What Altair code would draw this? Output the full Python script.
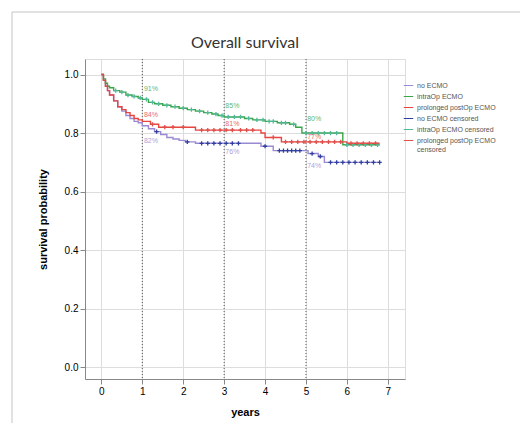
import altair as alt
import pandas as pd

# ---- data ----
chart_title = ["Overall survival"]
series_names = ["no ECMO", "intraOp ECMO", "prolonged postOp ECMO",
                "no ECMO censored", "intraOp ECMO censored", "prolonged postOp ECMO censored"]
series_colors = ["#9a8ad2", "#3aa64a", "#e8453f", "#2f3f9e", "#52b89a", "#e0504c"]

noecmo_t = [0, 0.05, 0.1, 0.15, 0.2, 0.3, 0.4, 0.5, 0.6, 0.7, 0.8, 0.9, 1.0, 1.15, 1.3, 1.45,
            1.6, 1.75, 1.9, 2.05, 2.3, 3.9, 4.2, 5.05, 5.3, 5.45, 6.8]
noecmo_s = [1.0, 0.98, 0.96, 0.945, 0.93, 0.91, 0.89, 0.875, 0.86, 0.85, 0.84, 0.835, 0.825,
            0.815, 0.805, 0.795, 0.785, 0.78, 0.775, 0.77, 0.765, 0.755, 0.74, 0.73, 0.72, 0.70, 0.70]

intra_t = [0, 0.05, 0.1, 0.15, 0.2, 0.3, 0.45, 0.6, 0.75, 0.9, 1.0, 1.15, 1.3, 1.5, 1.7, 1.9,
           2.1, 2.3, 2.5, 2.7, 2.85, 3.0, 3.5, 3.7, 4.0, 4.3, 4.6, 4.75, 4.9, 5.9, 6.8]
intra_s = [1.0, 0.985, 0.97, 0.96, 0.955, 0.945, 0.94, 0.93, 0.925, 0.92, 0.915, 0.905, 0.9,
           0.895, 0.89, 0.885, 0.88, 0.875, 0.87, 0.865, 0.86, 0.855, 0.85, 0.845, 0.84, 0.835,
           0.83, 0.82, 0.80, 0.76, 0.76]

postop_t = [0, 0.05, 0.1, 0.15, 0.2, 0.3, 0.4, 0.5, 0.6, 0.7, 0.8, 0.9, 1.0, 1.2, 1.4, 2.3,
            3.9, 4.0, 4.4, 6.0, 6.8]
postop_s = [1.0, 0.98, 0.96, 0.945, 0.93, 0.91, 0.89, 0.88, 0.87, 0.86, 0.85, 0.845, 0.84,
            0.83, 0.82, 0.81, 0.80, 0.785, 0.77, 0.765, 0.765]

noecmo_cens_t = [1.35, 2.1, 2.45, 2.6, 2.75, 2.9, 3.05, 3.2, 3.35, 4.0, 4.35, 4.45, 4.55, 4.65,
                 4.75, 4.85, 5.15, 5.35, 5.6, 5.75, 5.9, 6.05, 6.2, 6.35, 6.5, 6.65, 6.8]
noecmo_cens_s = [0.805, 0.77, 0.765, 0.765, 0.765, 0.765, 0.765, 0.765, 0.765, 0.755, 0.74, 0.74,
                 0.74, 0.74, 0.74, 0.74, 0.73, 0.72, 0.70, 0.70, 0.70, 0.70, 0.70, 0.70, 0.70,
                 0.70, 0.70]

intra_cens_t = [0.35, 0.5, 0.65, 0.8, 0.95, 1.1, 1.25, 1.4, 1.6, 1.8, 2.0, 2.2, 2.4, 2.6, 2.8,
                2.95, 3.1, 3.25, 3.4, 3.6, 3.8, 3.95, 4.1, 4.2, 4.4, 4.5, 4.7, 5.0, 5.15, 5.3,
                5.45, 5.6, 5.75, 6.0, 6.15, 6.3, 6.45, 6.6, 6.75]
intra_cens_s = [0.945, 0.94, 0.93, 0.925, 0.92, 0.915, 0.905, 0.9, 0.895, 0.89, 0.885, 0.88,
                0.875, 0.87, 0.865, 0.86, 0.855, 0.855, 0.855, 0.85, 0.845, 0.845, 0.84, 0.84,
                0.835, 0.835, 0.83, 0.80, 0.80, 0.80, 0.80, 0.80, 0.80, 0.76, 0.76, 0.76,
                0.76, 0.76, 0.76]

postop_cens_t = [1.25, 1.55, 1.75, 2.0, 2.45, 2.6, 2.75, 2.9, 3.05, 3.2, 3.4, 3.55, 3.7, 4.2,
                 4.5, 4.65, 4.8, 4.95, 5.1, 5.25, 5.4, 5.55, 5.7, 5.85, 6.1, 6.25, 6.4, 6.55, 6.7]
postop_cens_s = [0.83, 0.82, 0.82, 0.82, 0.81, 0.81, 0.81, 0.81, 0.81, 0.81, 0.81, 0.81, 0.81,
                 0.785, 0.77, 0.77, 0.77, 0.77, 0.77, 0.77, 0.77, 0.77, 0.77, 0.77, 0.765,
                 0.765, 0.765, 0.765, 0.765]

label_text = ["91%", "84%", "82%", "85%", "81%", "76%", "80%", "77%", "74%"]
label_x = [1.04, 1.04, 1.04, 3.03, 3.03, 3.03, 5.03, 5.03, 5.03]
label_y = [0.949, 0.863, 0.772, 0.894, 0.832, 0.734, 0.848, 0.785, 0.686]
label_series = ["intraOp ECMO", "prolonged postOp ECMO", "no ECMO",
                "intraOp ECMO", "prolonged postOp ECMO", "no ECMO",
                "intraOp ECMO", "prolonged postOp ECMO", "no ECMO"]

ref_years = [1, 3, 5]
x_ticks = [0, 1, 2, 3, 4, 5, 6, 7]
y_ticks = [0.0, 0.2, 0.4, 0.6, 0.8, 1.0]

# ---- tables ----
lines_df = pd.concat([
    pd.DataFrame({"years": noecmo_t, "surv": noecmo_s, "series": "no ECMO"}),
    pd.DataFrame({"years": intra_t, "surv": intra_s, "series": "intraOp ECMO"}),
    pd.DataFrame({"years": postop_t, "surv": postop_s, "series": "prolonged postOp ECMO"}),
])
cens_df = pd.concat([
    pd.DataFrame({"years": noecmo_cens_t, "surv": noecmo_cens_s, "series": "no ECMO censored"}),
    pd.DataFrame({"years": intra_cens_t, "surv": intra_cens_s, "series": "intraOp ECMO censored"}),
    pd.DataFrame({"years": postop_cens_t, "surv": postop_cens_s,
                  "series": "prolonged postOp ECMO censored"}),
])
labels_df = pd.DataFrame({"years": label_x, "surv": label_y, "text": label_text,
                          "series": label_series})
ref_df = pd.DataFrame({"years": ref_years})
title_df = pd.DataFrame({"title": chart_title})

xscale = alt.Scale(domain=[-0.4, 7.42], nice=False, zero=False)
yscale = alt.Scale(domain=[-0.04, 1.053], nice=False, zero=False)
cscale = alt.Scale(domain=series_names, range=series_colors)

xenc = alt.X("years:Q", scale=xscale,
             axis=alt.Axis(title="years", values=x_ticks, format="d", titlePadding=10))
yenc = alt.Y("surv:Q", scale=yscale,
             axis=alt.Axis(title="survival probability", values=y_ticks, format=".1f",
                           titlePadding=16))

legend = alt.Legend(title=None, orient="none", legendX=318, legendY=21, symbolType="stroke",
                    symbolSize=90, symbolStrokeWidth=1, labelFontSize=7, labelColor="#555",
                    labelFont="Liberation Sans", rowPadding=2, labelOffset=3, labelLimit=200,
                    labelExpr="datum.label == 'prolonged postOp ECMO censored' ? "
                              "['prolonged postOp ECMO', 'censored'] : datum.label")

frame = alt.Chart(title_df).mark_rect(fill=None, stroke="#c4c4c4", strokeWidth=1, clip=False).encode(
    x=alt.value(-73), y=alt.value(-47), x2=alt.value(700), y2=alt.value(600))

title = alt.Chart(title_df).mark_text(font="Lato", fontSize=16, color="#333", align="center",
                                      baseline="alphabetic").encode(
    x=alt.value(160), y=alt.value(-11), text="title:N")

refs = alt.Chart(ref_df).mark_rule(color="#555", strokeDash=[1, 2], strokeWidth=1).encode(
    x=alt.X("years:Q", scale=xscale))

lines = alt.Chart(lines_df).mark_line(interpolate="step-after", strokeWidth=1.4).encode(
    x=xenc, y=yenc,
    color=alt.Color("series:N", scale=cscale, legend=legend),
    detail="series:N")

cens = alt.Chart(cens_df).mark_point(shape="M-1,0L1,0M0,-1L0,1", filled=False, size=18,
                                     strokeWidth=1.3, opacity=1).encode(
    x=xenc, y=yenc, color=alt.Color("series:N", scale=cscale, legend=legend))

labels = alt.Chart(labels_df).mark_text(align="left", baseline="middle", fontSize=7,
                                        font="Liberation Sans", opacity=0.8).encode(
    x=xenc, y=yenc, text="text:N",
    color=alt.Color("series:N", scale=cscale, legend=legend))

chart = alt.layer(frame, title, refs, lines, cens, labels).properties(
    width=320, height=320,
    autosize=alt.AutoSizeParams(type="none"),
    padding={"left": 77, "top": 51, "right": 115, "bottom": 44},
).configure_view(stroke="#7a7a7a", strokeWidth=1.5).configure_axis(
    grid=False, domain=False, labelFont="Liberation Sans", labelFontSize=7, labelColor="#555",
    tickColor="#555", tickSize=3, labelPadding=2, titleFont="Liberation Sans", titleFontSize=8,
    titleFontWeight="bold", titleColor="#333"
).configure(background="white")

chart.save("out.html", embed_options={"renderer": "svg", "actions": False})
